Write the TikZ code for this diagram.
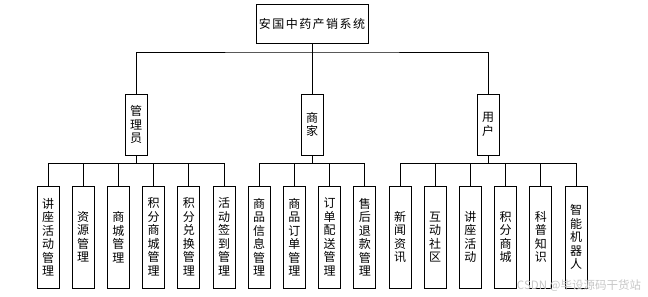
\documentclass[tikz,border=0pt]{standalone}
\usepackage{fontspec}
\setmainfont{Noto Sans CJK SC}
\newfontfamily\rootfont[LetterSpace=12]{Noto Sans CJK SC}
\begin{document}
\begin{tikzpicture}[x=1pt,y=-1pt,
  box/.style={draw=black,line width=0.9pt,inner sep=0pt,align=center,
    font=\fontsize{12pt}{13.5pt}\selectfont},
  midbox/.style={box,minimum width=22pt,minimum height=61pt},
  leafbox/.style={box,minimum width=22pt,minimum height=102pt},
  link/.style={draw=black,line width=0.9pt}]
\useasboundingbox (0,0) rectangle (648,297);
\node[box,minimum width=112pt,minimum height=39pt,font=\fontsize{12pt}{14pt}\rootfont] (root) at (312,23.5) {安国中药产销系统};
\node[midbox] (admin) at (136,124.5) {管\\理\\员};
\node[midbox] (merch) at (312,124.5) {商\\家};
\node[midbox] (user) at (488,124.5) {用\\户};
\coordinate (top) at (312,52);
\coordinate (ja) at (136,163);
\coordinate (jm) at (312,163);
\coordinate (ju) at (488,163);
\node[leafbox] (a1) at (48,237) {讲\\座\\活\\动\\管\\理};
\node[leafbox] (a2) at (83.2,237) {资\\源\\管\\理};
\node[leafbox] (a3) at (118.4,237) {商\\城\\管\\理};
\node[leafbox] (a4) at (153.6,237) {积\\分\\商\\城\\管\\理};
\node[leafbox] (a5) at (188.8,237) {积\\分\\兑\\换\\管\\理};
\node[leafbox] (a6) at (224,237) {活\\动\\签\\到\\管\\理};
\node[leafbox] (m1) at (259.2,237) {商\\品\\信\\息\\管\\理};
\node[leafbox] (m2) at (294.4,237) {商\\品\\订\\单\\管\\理};
\node[leafbox] (m3) at (329.6,237) {订\\单\\配\\送\\管\\理};
\node[leafbox] (m4) at (364.8,237) {售\\后\\退\\款\\管\\理};
\node[leafbox] (u1) at (400,237) {新\\闻\\资\\讯};
\node[leafbox] (u2) at (435.2,237) {互\\动\\社\\区};
\node[leafbox] (u3) at (470.4,237) {讲\\座\\活\\动};
\node[leafbox] (u4) at (505.6,237) {积\\分\\商\\城};
\node[leafbox] (u5) at (540.8,237) {科\\普\\知\\识};
\node[leafbox] (u6) at (576,237) {智\\能\\机\\器\\人};
\draw[link] (root.south) -- (top);
\draw[link] (top) -- (merch.north);
\draw[link] (admin.north) |- (top) -| (user.north);
\draw[link] (admin.south) -- (ja);
\draw[link] (merch.south) -- (jm);
\draw[link] (user.south) -- (ju);
\foreach \n in {a1,a2,a3,a4,a5,a6} \draw[link] (ja) -| (\n.north);
\foreach \n in {m1,m2,m3,m4} \draw[link] (jm) -| (\n.north);
\foreach \n in {u1,u2,u3,u4,u5,u6} \draw[link] (ju) -| (\n.north);
\node[text=black!22,font=\fontsize{11.5pt}{13pt}\selectfont,inner sep=0pt] (wm) at (579,285.5) {CSDN @毕设源码干货站};
\end{tikzpicture}
\end{document}
